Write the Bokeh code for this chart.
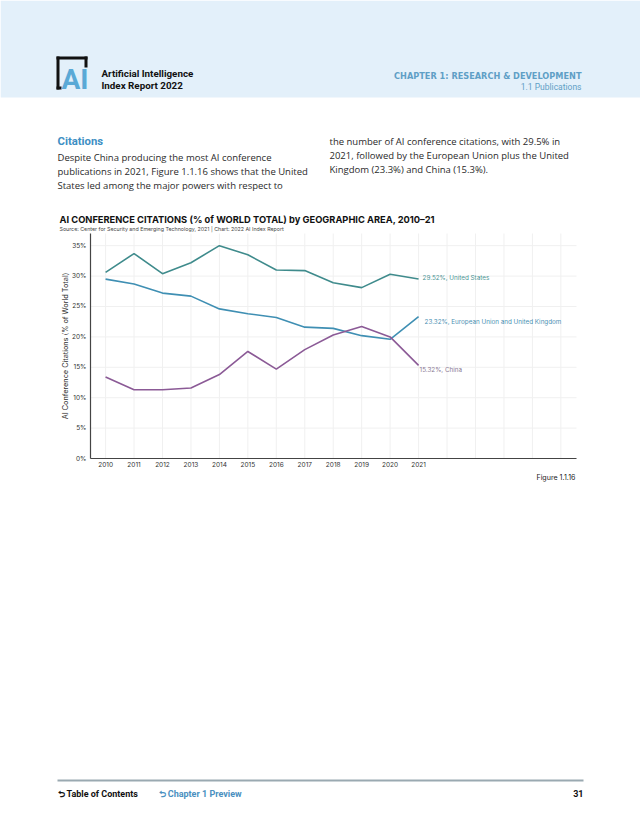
import math
from bokeh.plotting import figure
from bokeh.models import (Label, Range1d, FixedTicker, PrintfTickFormatter, LinearAxis)
from bokeh.core.properties import value
from bokeh.embed import file_html
from bokeh.resources import INLINE

# ---- data ----
years = [2010, 2011, 2012, 2013, 2014, 2015, 2016, 2017, 2018, 2019, 2020, 2021]
us = [30.6, 33.7, 30.4, 32.2, 35.0, 33.5, 31.0, 30.9, 28.9, 28.1, 30.3, 29.52]
eu_uk = [29.5, 28.7, 27.2, 26.7, 24.6, 23.8, 23.2, 21.6, 21.4, 20.2, 19.6, 23.32]
china = [13.4, 11.3, 11.3, 11.6, 13.8, 17.6, 14.7, 17.9, 20.3, 21.7, 20.0, 15.32]
series_names = ["United States", "European Union and United Kingdom", "China"]
y_ticks = [0, 5, 10, 15, 20, 25, 30, 35]
grid_years = list(range(2010, 2027))

W, H = 640, 828
# chart area on the page (pixels) and its data extent
FL, FR, FT, FB = 90, 576, 233, 458
XS, XE, YS, YE = 2009.47, 2026.55, 0, 37
kx = (XE - XS) / (FR - FL)
ky = (YE - YS) / (FB - FT)

p = figure(width=W, height=H, output_backend="svg", toolbar_location=None,
           x_range=Range1d(XS - FL * kx, XE + (W - FR) * kx),
           y_range=Range1d(YS - (H - FB) * ky, YE + FT * ky),
           x_axis_type=None, y_axis_type=None, min_border=0,
           background_fill_color="white", border_fill_color="white",
           outline_line_color=None)
# page-pixel coordinate system for page furniture
p.extra_x_ranges = {"px": Range1d(0, W)}
p.extra_y_ranges = {"py": Range1d(H, 0)}


def T(px, py, text, size, color="#222222", bold=False, font="Inter", align="left", angle=0.0):
    p.text(x=[px], y=[py], text=[text], x_range_name="px", y_range_name="py",
           text_font=value(font), text_font_size=f"{size}px",
           text_font_style="bold" if bold else "normal", text_color=color,
           text_align=align, text_baseline="middle", angle=angle)


def B(x0, y0, x1, y1, color):
    p.quad(left=[x0], right=[x1], top=[y0], bottom=[y1], x_range_name="px", y_range_name="py",
           fill_color=color, line_color=None)

# ---------------- header ----------------
B(0, 0, W, 97, "#e3f0fa")
B(56, 56, 87, 59, "#111111")
B(84, 56, 87, 67, "#111111")
B(56, 56, 59, 89, "#111111")
B(56, 86, 61, 89, "#111111")
T(61, 79, "AI", 28, color="#5aa9d6", bold=True, font="Roboto")
T(101, 73, "Artificial Intelligence", 9.8, color="#111111", bold=True, font="Roboto")
T(101, 84.5, "Index Report 2022", 9.8, color="#111111", bold=True, font="Roboto")
T(581, 75, "CHAPTER 1: RESEARCH & DEVELOPMENT", 8.2, color="#5f9fc6", bold=True, font="DejaVu Sans", align="right")
T(581, 86, "1.1 Publications", 8.5, color="#5f9fc6", font="Roboto", align="right")

# ---------------- body text ----------------
T(57, 141, "Citations", 11.3, color="#3e8fc4", bold=True, font="Roboto")
left_lines = ["Despite China producing the most AI conference",
              "publications in 2021, Figure 1.1.16 shows that the United",
              "States led among the major powers with respect to"]
right_lines = ["the number of AI conference citations, with 29.5% in",
               "2021, followed by the European Union plus the United",
               "Kingdom (23.3%) and China (15.3%)."]
for i, s in enumerate(left_lines):
    T(57, 157 + 14 * i, s, 9.5, color="#2a2a2a", font="Open Sans")
for i, s in enumerate(right_lines):
    T(329, 141 + 14 * i, s, 9.5, color="#2a2a2a", font="Open Sans")

# ---------------- chart titles ----------------
T(59, 219, "AI CONFERENCE CITATIONS (% of WORLD TOTAL) by GEOGRAPHIC AREA, 2010\u201321", 9.3, color="#111111", bold=True)
T(59, 228.5, "Source: Center for Security and Emerging Technology, 2021 | Chart: 2022 AI Index Report", 5.3, color="#444444")
T(65, (FT + FB) / 2, "AI Conference Citations (% of World Total)", 7.3, color="#333333", align="center", angle=math.pi / 2)

# ---------------- chart ----------------
p.segment(x0=grid_years, y0=[YS] * len(grid_years), x1=grid_years, y1=[YE] * len(grid_years),
          line_color="#f0f0f0", line_width=1, level="underlay")
p.segment(x0=[XS] * len(y_ticks), y0=y_ticks, x1=[XE] * len(y_ticks), y1=y_ticks,
          line_color="#f0f0f0", line_width=1, level="underlay")

xaxis = LinearAxis(fixed_location=YS, bounds=(XS, XE), ticker=FixedTicker(ticks=years))
yaxis = LinearAxis(fixed_location=XS, bounds=(YS, YE), ticker=FixedTicker(ticks=y_ticks),
                   formatter=PrintfTickFormatter(format="%d%%"))
for ax in (xaxis, yaxis):
    ax.axis_line_color = "#444444"
    ax.axis_line_width = 1.2
    ax.major_tick_line_color = None
    ax.minor_tick_line_color = None
    ax.major_tick_out = 0
    ax.major_tick_in = 0
    ax.major_label_text_font = "Inter"
    ax.major_label_text_font_size = "6.5px"
    ax.major_label_text_color = "#333333"
xaxis.major_label_standoff = 3
yaxis.major_label_standoff = 4
p.add_layout(xaxis, "below")
p.add_layout(yaxis, "left")

colors = ["#3f8b8c", "#3f8fb3", "#8b5a96"]
label_colors = ["#4c9595", "#4a90b3", "#8a7a95"]
vals = [us, eu_uk, china]
offsets = [(4, 1), (6, -5), (1, -5)]
for v, c, lc, name, (dx, dy) in zip(vals, colors, label_colors, series_names, offsets):
    p.line(years, v, line_color=c, line_width=1.6)
    p.add_layout(Label(x=years[-1], y=v[-1], x_offset=dx, y_offset=dy,
                       text=f"{v[-1]:.2f}%, {name}", text_font="Inter",
                       text_font_size="6.3px", text_color=lc, text_baseline="middle"))

# ---------------- footer ----------------
T(575, 477, "Figure 1.1.16", 7.1, color="#222222", align="right")
B(57, 779, 583, 781, "#9aa9b1")
T(57, 793, "\u2b8c Table of Contents", 9, color="#111111", bold=True, font="Roboto")
T(158, 793, "\u2b8c Chapter 1 Preview", 9, color="#4a90c0", bold=True, font="Roboto")
T(583, 793, "31", 9, color="#111111", bold=True, font="Roboto", align="right")

open("out.html", "w").write(file_html(p, INLINE))
